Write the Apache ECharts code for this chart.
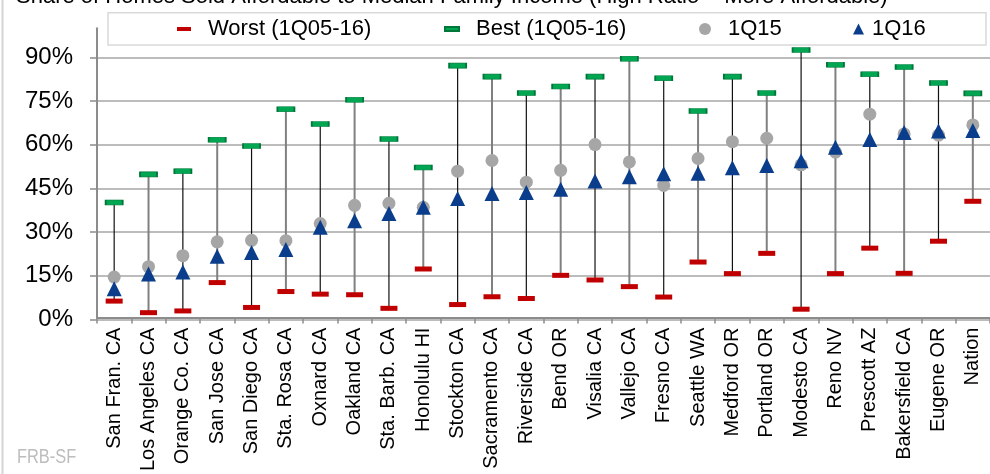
<!DOCTYPE html>
<html>
<head>
<meta charset="utf-8">
<script src="https://cdn.jsdelivr.net/npm/echarts@6/dist/echarts.min.js"></script>
<style>
html,body{margin:0;padding:0;background:#fff;}
#chart{width:990px;height:474px;}
</style>
</head>
<body>
<div id="chart"></div>
<script>
var titleText = 'Share of Homes Sold Affordable to Median Family Income (High Ratio = More Affordable)';
var sourceText = 'FRB-SF';
var categories = ['San Fran. CA','Los Angeles CA','Orange Co. CA','San Jose CA','San Diego CA','Sta. Rosa CA','Oxnard CA','Oakland CA','Sta. Barb. CA','Honolulu HI','Stockton CA','Sacramento CA','Riverside CA','Bend OR','Visalia CA','Vallejo CA','Fresno CA','Seattle WA','Medford OR','Portland OR','Modesto CA','Reno NV','Prescott AZ','Bakersfield CA','Eugene OR','Nation'];
var worst = [5.7,1.7,2.3,12.1,3.5,9.0,8.1,7.9,3.2,16.8,4.5,7.2,6.6,14.6,13.0,10.7,7.1,19.2,15.2,22.2,2.9,15.2,24.0,15.3,26.4,40.2];
var best = [39.8,49.5,50.6,61.5,59.3,72.0,66.9,75.3,61.7,51.9,87.1,83.3,77.6,79.9,83.3,89.5,82.7,71.4,83.3,77.6,92.5,87.4,84.1,86.6,81.1,77.5];
var q15 = [14.0,17.6,21.4,26.2,26.7,26.6,32.5,38.8,39.5,38.1,50.6,54.3,46.8,50.9,59.8,53.8,45.7,55.0,60.8,62.0,52.8,57.2,70.3,63.5,63.1,66.6];
var q16 = [10.0,15.1,15.8,21.2,22.5,23.5,31.2,33.5,36.0,38.1,41.2,42.9,43.2,44.4,47.2,48.7,49.7,49.9,51.8,52.6,54.2,58.9,61.6,64.0,64.5,64.7];
var yTicks = [0,15,30,45,60,75,90];
var seriesNames = ['Worst (1Q05-16)','Best (1Q05-16)','1Q15','1Q16'];

var chart = echarts.init(document.getElementById('chart'), null, {renderer:'canvas'});
var axisGray = '#8c8c8c';
var rangeData = categories.map(function(c,i){ return [i, worst[i], best[i]]; });

var legendBase = {
  orient:'horizontal', top:18, padding:0, selectedMode:false,
  textStyle:{fontSize:22, color:'#000', fontFamily:'Arial, Liberation Sans', lineHeight:22, padding:[0,0,0,12]},
  z:5
};
function mkLegend(name, left, w, h, icon, padLeft){
  var l = JSON.parse(JSON.stringify(legendBase));
  l.left = left; l.itemWidth = w; l.itemHeight = h;
  l.data = [{name:name, icon:icon}];
  l.textStyle.padding = [0,0,0,padLeft];
  return l;
}

var option = {
  animation:false,
  backgroundColor:'#fff',
  graphic:[
    {type:'line', shape:{x1:2.5,y1:0,x2:2.5,y2:474}, style:{stroke:'#d4d4d4', lineWidth:2}, z:0},
    {type:'text', x:16, y:-3.5, style:{text:titleText, fontSize:22, fontFamily:'Arial', fill:'#000', verticalAlign:'middle'}, z:1},
    {type:'rect', shape:{x:108, y:12.7, width:878, height:32.3}, style:{fill:'#fff', stroke:'#d9d9d9', lineWidth:1.5}, z:1},
    {type:'text', x:17, y:457.5, scaleX:0.82, style:{text:sourceText, fontSize:20, fontFamily:'Arial', fill:'#bdbdbd', verticalAlign:'middle'}, z:1}
  ],
  legend:[
    mkLegend(seriesNames[0], 177, 14, 4, 'rect', 12),
    mkLegend(seriesNames[1], 444, 14, 4, 'rect', 12),
    mkLegend(seriesNames[2], 699, 12, 12, 'circle', 12),
    mkLegend(seriesNames[3], 853, 11, 11, 'triangle', 3)
  ],
  grid:[
    {left:97, width:898, top:28.3, bottom:154.5},
    {left:97, width:898, top:57.4, bottom:154.5}
  ],
  xAxis:[
    {type:'category', gridIndex:0, data:categories, boundaryGap:true,
     axisLine:{show:true, lineStyle:{color:axisGray, width:2}},
     axisTick:{show:true, length:6, lineStyle:{color:axisGray, width:1.5}},
     axisLabel:{rotate:90, interval:0, fontSize:20, color:'#000', margin:10, fontFamily:'Arial, Liberation Sans'},
     splitLine:{show:false}},
    {type:'category', gridIndex:1, data:categories, show:false}
  ],
  yAxis:[
    {type:'value', gridIndex:0, min:0, max:100,
     axisLine:{show:true, lineStyle:{color:axisGray, width:2}},
     axisTick:{show:false}, axisLabel:{show:false}, splitLine:{show:false}},
    {type:'value', gridIndex:1, min:yTicks[0], max:yTicks[yTicks.length-1], interval:15,
     axisLine:{show:false},
     axisTick:{show:true, length:7, lineStyle:{color:axisGray, width:1.5}},
     axisLabel:{formatter:'{value}%', fontSize:24, color:'#000', margin:24, fontFamily:'Arial, Liberation Sans'},
     splitLine:{show:true, lineStyle:{color:'#a6a6a6', width:1.5}}}
  ],
  series:[
    {type:'custom', name:'range', xAxisIndex:0, yAxisIndex:0, data:rangeData, z:2,
     renderItem:function(params, api){
       var i = api.value(0);
       var p1 = api.coord([i, api.value(1)]);
       var p2 = api.coord([i, api.value(2)]);
       var odd = (i % 2) === 1;
       return {type:'line', shape:{x1:p1[0], y1:p1[1], x2:p2[0], y2:p2[1]},
               style:{stroke: odd ? '#808080' : '#111', lineWidth: odd ? 2 : 1.2}};
     }},
    {type:'scatter', name:seriesNames[0], data:worst, symbol:'rect', symbolSize:[17,5], z:3,
     itemStyle:{color:'#c00000', opacity:1}},
    {type:'scatter', name:seriesNames[1], data:best, symbol:'rect', symbolSize:[17,5], z:3,
     itemStyle:{color:'#00a651', borderColor:'#00773a', borderWidth:1, opacity:1}},
    {type:'scatter', name:seriesNames[2], data:q15, symbol:'circle', symbolSize:13, z:4,
     itemStyle:{color:'#a6a6a6', opacity:1}},
    {type:'scatter', name:seriesNames[3], data:q16, symbol:'triangle', symbolSize:[15,15], z:5,
     itemStyle:{color:'#0a3d8c', opacity:1}}
  ]
};
chart.setOption(option);
</script>
</body>
</html>
